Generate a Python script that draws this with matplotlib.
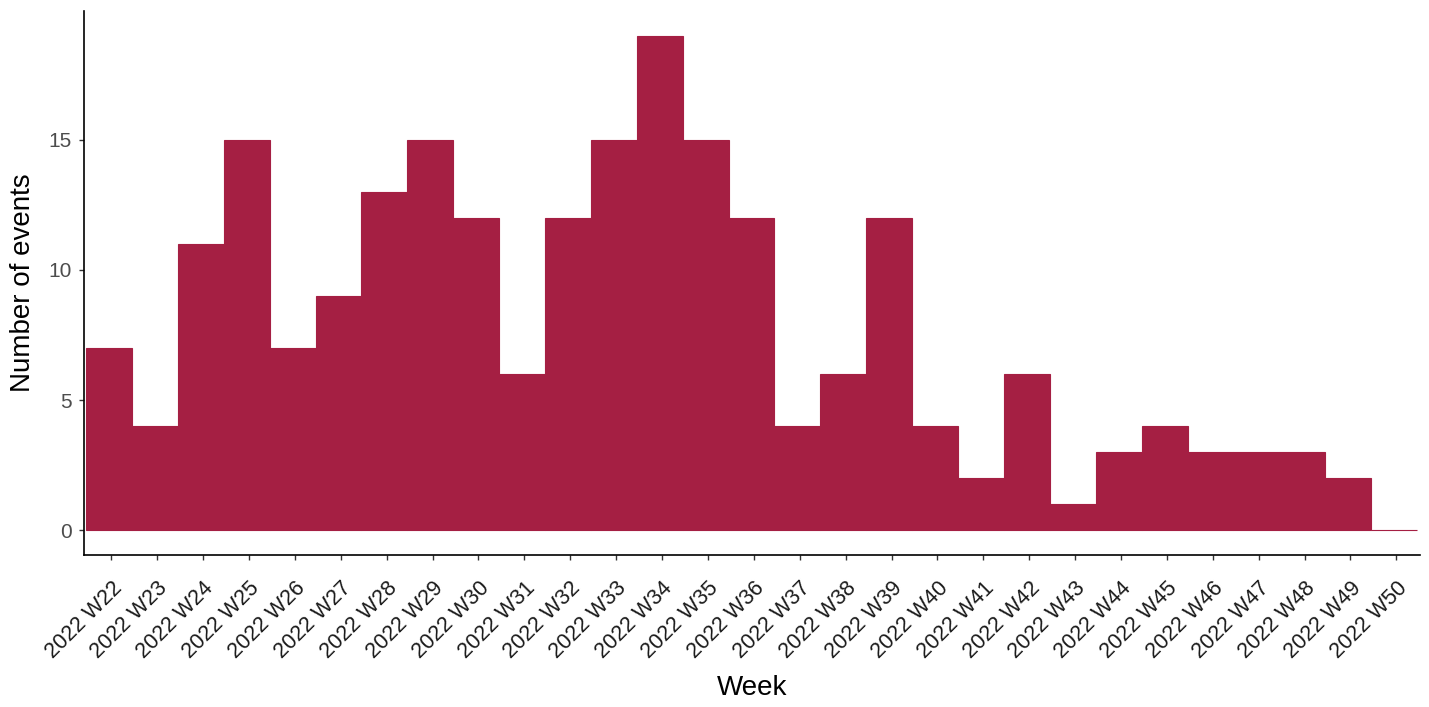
import numpy as np
import matplotlib.pyplot as plt

weeks = ["2022 W%d" % w for w in range(22, 51)]
counts = [7, 4, 11, 15, 7, 9, 13, 15, 12, 6, 12, 15, 19, 15, 12,
          4, 6, 12, 4, 2, 6, 1, 3, 4, 3, 3, 3, 2, 0]

plt.rcParams['font.family'] = ['Liberation Sans', 'DejaVu Sans']

fig = plt.figure(figsize=(14.29, 7.07), dpi=100)
ax = fig.add_axes([0.0588, 0.215, 0.9349, 0.7696])

x = np.arange(len(counts))
ax.bar(x, counts, width=1.0, color='#A51F43', edgecolor='#A51F43', linewidth=0.8)

ax.set_xticks(x + 0.05)
ax.set_xticklabels(weeks, rotation=45, ha='right', va='top',
                   rotation_mode='anchor', fontsize=15.6, color='#1a1a1a')
ax.set_yticks([0, 5, 10, 15])
ax.tick_params(axis='y', labelsize=15, labelcolor='#4D4D4D', length=3.6, width=1,
               color='#333333', pad=5)
ax.tick_params(axis='x', length=3.6, width=1, color='#333333', pad=13)

ax.set_xlim(-0.545, 28.565)
ax.set_ylim(-0.95, 19.95)

for s in ['top', 'right']:
    ax.spines[s].set_visible(False)
for s in ['left', 'bottom']:
    ax.spines[s].set_linewidth(1.2)
    ax.spines[s].set_color('black')

ax.set_xlabel("Week", fontsize=20, va='center')
ax.xaxis.set_label_coords(0.5, -0.2445)
ax.set_ylabel("Number of events", fontsize=20, va='center')
ax.yaxis.set_label_coords(-0.0457, 0.5)

fig.savefig('out.png', dpi=100)
